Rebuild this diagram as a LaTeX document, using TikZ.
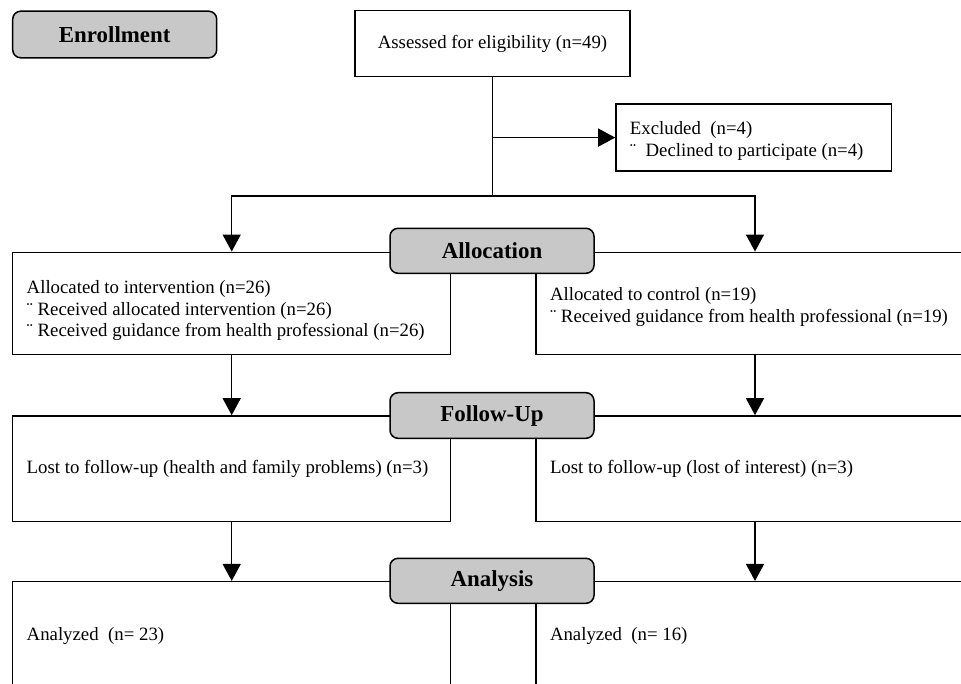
\documentclass[tikz,border=0pt]{standalone}
\usepackage{fontspec}
\setmainfont{Liberation Serif}
\usepackage{xcolor}
\usetikzlibrary{arrows.meta}
\definecolor{stagegray}{RGB}{200,200,200}

\begin{document}
\begin{tikzpicture}[x=1pt, y=-1pt, line width=1.5pt,
        txt/.style={font=\fontsize{18.8}{21.7}\selectfont},
        stage/.style={draw, rounded corners=8pt, fill=stagegray, inner sep=0pt,
            minimum width=204pt, minimum height=45pt,
            font=\fontsize{22.9}{26}\selectfont\bfseries},
        bigbox/.style={draw, txt, text width=410pt, inner xsep=14pt, inner ysep=0pt,
            minimum height=102pt, align=flush left},
        arr/.style={-{Triangle[length=17pt, width=18pt]}}]
    \useasboundingbox (0,0) rectangle (961,684);
    \clip (0,0) rectangle (961,684);

    \node[stage, minimum height=46.6pt] (enroll) at (114.7,34.5) {Enrollment};
    \node[draw, txt, inner sep=0pt, minimum width=275pt, minimum height=66pt] (assess) at (492.5,43.7)
        {Assessed for eligibility (n=49)};
    \node[draw, txt, text width=247.7pt, inner xsep=14pt, inner ysep=0pt, minimum height=66.7pt, align=flush left]
        (excl) at (753.8,137.6) {\rule{0pt}{20.5pt}Excluded\ \ (n=4)\\¨\ \ Declined to participate (n=4)};

    \node[bigbox] (interv) at (231.7,303.3) {\rule{0pt}{27.5pt}Allocated to intervention (n=26)\\
        ¨ Received allocated intervention (n=26)\\
        ¨ Received guidance from health professional (n=26)};
    \node[bigbox] (control) at (755,303.3) {\rule{0pt}{20.5pt}Allocated to control (n=19)\\
        ¨ Received guidance from health professional (n=19)};
    \node[bigbox, minimum height=105.7pt] (lostint) at (231.7,468.8)
        {Lost to follow-up (health and family problems) (n=3)};
    \node[bigbox, minimum height=105.7pt] (lostcon) at (755,468.8)
        {Lost to follow-up (lost of interest) (n=3)};
    \node[bigbox, minimum height=108pt] (anaint) at (231.7,635.7) {Analyzed\ \ (n= 23)};
    \node[bigbox, minimum height=108pt] (anacon) at (755,635.7) {Analyzed\ \ (n= 16)};

    \coordinate (split) at (assess.south |- 0,196);
    \draw (assess.south) -- (split);
    \draw[arr] (assess.south |- excl.west) -- (excl.west);
    \draw[arr] (split) -| (interv.north);
    \draw[arr] (split) -| (control.north);
    \draw[arr] (interv) -- (lostint);
    \draw[arr] (control) -- (lostcon);
    \draw[arr] (lostint) -- (anaint);
    \draw[arr] (lostcon) -- (anacon);

    \node[stage] (alloc) at (492,250.8) {Allocation};
    \node[stage, minimum height=45.6pt] (follow) at (492,415.5) {Follow-Up};
    \node[stage] (analysis) at (492,580.8) {Analysis};
\end{tikzpicture}
\end{document}
